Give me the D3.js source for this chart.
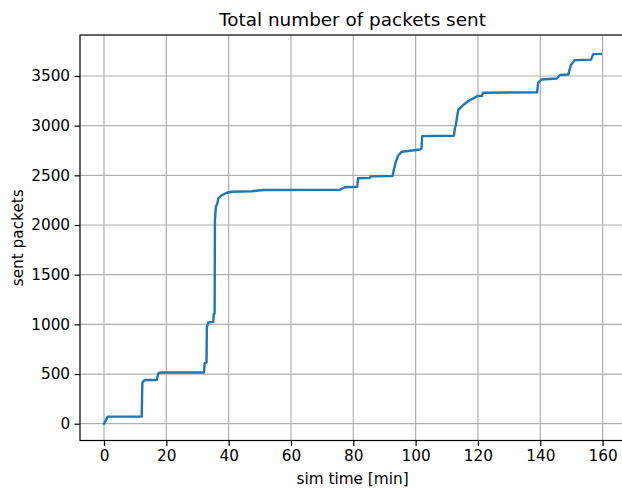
<!DOCTYPE html>
<html><head><meta charset="utf-8">
<script src="https://cdn.jsdelivr.net/npm/d3@7"></script>
<style>body{margin:0;background:#fff}svg{display:block}text{font-family:"DejaVu Sans",sans-serif;fill:#000}</style>
</head><body>
<script>
const titleText = "Total number of packets sent";
const xLabel = "sim time [min]";
const yLabel = "sent packets";
const xTicks = [0,20,40,60,80,100,120,140,160];
const yTicks = [0,500,1000,1500,2000,2500,3000,3500];
const simTime = [0,1.2,12.1,12.3,12.8,13.5,16.9,17.5,18.5,32.1,32.3,32.9,33.0,33.5,35.1,35.2,35.5,35.6,35.9,36.4,36.7,37.8,39.4,41,47.4,51.1,75.7,77.3,81.3,81.5,85.3,85.6,92.6,92.9,93.5,94.4,95.5,98.2,101.4,101.9,102.1,112.3,112.6,112.9,113.2,113.7,115.3,116.9,118.5,119.8,121.3,121.6,139.0,139.3,140.4,145.3,146.3,149.0,149.8,151.1,156.3,157.0,159.4];
const sentPackets = [0,71,71,410,433,440,440,510,515,515,610,615,970,1020,1025,1100,1110,2050,2185,2219,2269,2300,2325,2335,2340,2352,2355,2380,2385,2470,2475,2490,2493,2540,2620,2700,2738,2748,2760,2770,2895,2899,2974,3007,3070,3158,3208,3248,3275,3299,3300,3332,3335,3430,3465,3475,3510,3515,3610,3660,3665,3720,3722];

const W = 622, H = 489;
const L = 80, R = 625, T = 35, B = 440.5;
const svg = d3.select("body").append("svg").attr("width", W).attr("height", H);
const x = d3.scaleLinear().domain([0,160]).range([104, 602.6]);
const y = d3.scaleLinear().domain([0,3500]).range([423.7, 76]);
const fs = 15.3;

// grid
svg.append("g").selectAll("line").data(xTicks).join("line")
  .attr("x1", d=>x(d)).attr("x2", d=>x(d)).attr("y1", T).attr("y2", B)
  .attr("stroke", "#b0b0b0").attr("stroke-width", 1.2);
svg.append("g").selectAll("line").data(yTicks).join("line")
  .attr("y1", d=>y(d)).attr("y2", d=>y(d)).attr("x1", L).attr("x2", R)
  .attr("stroke", "#b0b0b0").attr("stroke-width", 1.2);

// line
const pts = simTime.map((t,i)=>[t, sentPackets[i]]);
svg.append("path").datum(pts)
  .attr("d", d3.line().x(d=>x(d[0])).y(d=>y(d[1])))
  .attr("fill","none").attr("stroke","#1f77b4").attr("stroke-width",2.4)
  .attr("stroke-linejoin","round").attr("stroke-linecap","square");

// axes
const xAxis = d3.axisBottom(x).tickValues(xTicks).tickFormat(d3.format("d")).tickSize(5.4).tickPadding(4.5);
const gx = svg.append("g").attr("transform", `translate(0,${B})`).call(xAxis);
gx.select(".domain").remove();
gx.selectAll("line").attr("stroke","#000").attr("stroke-width",1.2);
gx.selectAll("text").attr("font-size", fs).attr("font-family","DejaVu Sans");

const yAxis = d3.axisLeft(y).tickValues(yTicks).tickFormat(d3.format("d")).tickSize(5.4).tickPadding(4.5);
const gy = svg.append("g").attr("transform", `translate(${L},0)`).call(yAxis);
gy.select(".domain").remove();
gy.selectAll("line").attr("stroke","#000").attr("stroke-width",1.2);
gy.selectAll("text").attr("font-size", fs).attr("font-family","DejaVu Sans");

// spines
svg.append("rect").attr("x", L).attr("y", T).attr("width", R-L).attr("height", B-T)
  .attr("fill","none").attr("stroke","#000").attr("stroke-width",1.2);

svg.append("text").attr("x", (L+R)/2).attr("y", 26).attr("text-anchor","middle")
  .attr("font-size", 18.4).text(titleText);
svg.append("text").attr("x", (L+R)/2).attr("y", 484).attr("text-anchor","middle")
  .attr("font-size", fs).text(xLabel);
svg.append("text").attr("transform", `translate(23,${(T+B)/2}) rotate(-90)`).attr("text-anchor","middle")
  .attr("font-size", fs).text(yLabel);
</script>
</body></html>
